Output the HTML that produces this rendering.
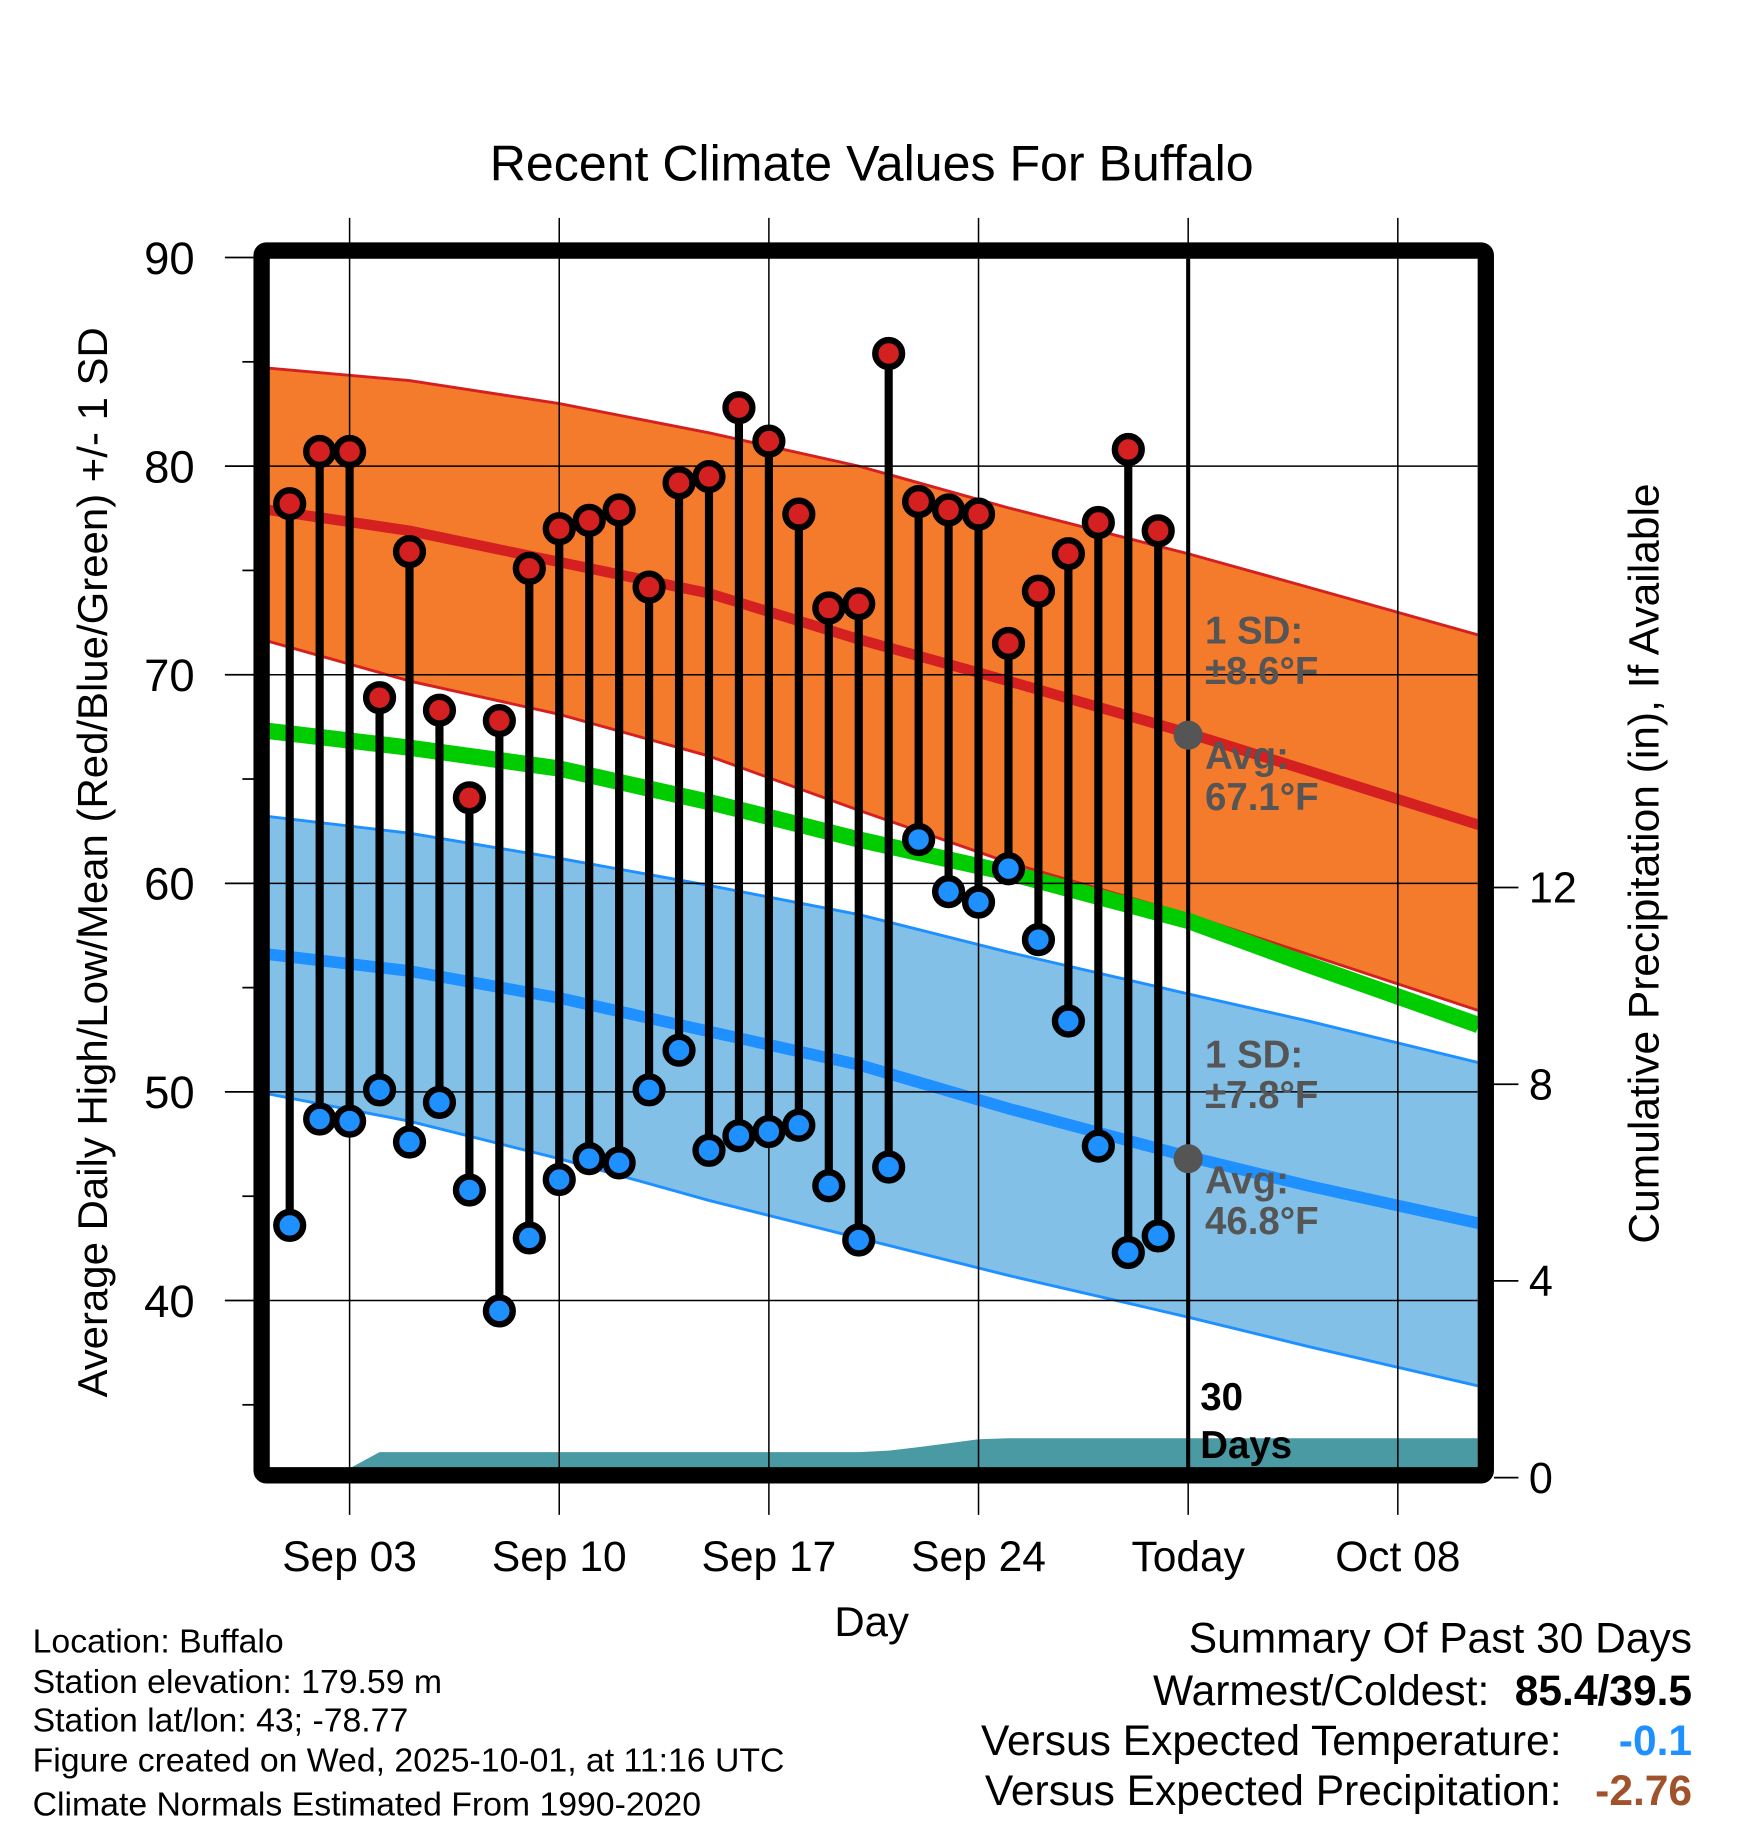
<!DOCTYPE html>
<html><head><meta charset="utf-8"><style>
html,body{margin:0;padding:0;background:#fff;}
svg{display:block;font-family:"Liberation Sans",Arial,sans-serif;}
</style></head><body>
<svg id="chart" width="1748" height="1828" viewBox="0 0 1500 1568.65" preserveAspectRatio="none" xmlns="http://www.w3.org/2000/svg">
<g id="bg"></g>
</svg>
<script>
// ---- data ----
const days = [1,2,3,4,5,6,7,8,9,10,11,12,13,14,15,16,17,18,19,20,21,22,23,24,25,26,27,28,29,30];
const highs = [78.2,80.7,80.7,68.9,75.9,68.3,64.1,67.8,75.1,77.0,77.4,77.9,74.2,79.2,79.5,82.8,81.2,77.7,73.2,73.4,85.4,78.3,77.9,77.7,71.5,74.0,75.8,77.3,80.8,76.9];
const lows = [43.6,48.7,48.6,50.1,47.6,49.5,45.3,39.5,43.0,45.8,46.8,46.6,50.1,52.0,47.2,47.9,48.1,48.4,45.5,42.9,46.4,62.1,59.6,59.1,60.7,57.3,53.4,47.4,42.3,43.1];
const precipCum = [0,0,0,0.52,0.52,0.52,0.52,0.52,0.52,0.52,0.52,0.52,0.52,0.52,0.52,0.52,0.52,0.52,0.52,0.52,0.55,0.62,0.7,0.78,0.8,0.8,0.8,0.8,0.8,0.8];
const normDays = [0.3,5,10,15,20,25,31,35,40.7];
const normHighUpper = [84.7,84.1,83.0,81.6,80.0,78.0,75.8,74.2,71.9];
const normHigh = [77.9,76.9,75.4,73.9,71.7,69.7,67.2,65.4,62.8];
const normHighLower = [71.6,69.7,68.1,66.1,63.5,61.0,58.5,56.6,53.9];
const normMean = [67.3,66.5,65.5,63.9,62.1,60.5,58.2,56.1,53.2];
const normLowUpper = [63.2,62.4,61.2,59.9,58.5,56.7,54.7,53.4,51.4];
const normLow = [56.6,55.8,54.5,52.9,51.3,49.2,46.9,45.5,43.7];
const normLowLower = [49.9,48.6,46.8,44.8,43.0,41.2,39.2,37.8,35.9];
const xTickDays = [3,10,17,24,31,38];
const xTickLabels = ["Sep 03","Sep 10","Sep 17","Sep 24","Today","Oct 08"];
const yTicks = [40,50,60,70,80,90];
const yMinor = [35,45,55,65,75,85];
const pTicks = [0,4,8,12];
const todayDay = 31;

// ---- scales ----
const L=231,R=1268,T=222,B=1260;
const x = d => 300 + (d-3)*25.7;
const y = v => 221 + (90-v)*17.9;
const yp = p => 1268 - p*42.2;
const svg = document.getElementById('chart');
const NS='http://www.w3.org/2000/svg';
function mk(tag, attrs, parent){const e=document.createElementNS(NS,tag);for(const k in attrs)e.setAttribute(k,attrs[k]);(parent||svg).appendChild(e);return e;}
function line(arr){return normDays.map((d,i)=>x(d).toFixed(1)+','+y(arr[i]).toFixed(1));}
function txt(s,attrs){const e=mk('text',attrs);e.textContent=s;return e;}

const defs=mk('defs',{});
const cp=mk('clipPath',{id:'pc'},defs);mk('rect',{x:L,y:T,width:R-L,height:B-T},cp);
const g=mk('g',{'clip-path':'url(#pc)'});

let e;
e=mk('polygon',{points:line(normHighUpper).concat(line(normHighLower).reverse()).join(' '),fill:'#f47a2c',stroke:'none'},g);


e=mk('polygon',{points:line(normLowUpper).concat(line(normLowLower).reverse()).join(' '),fill:'#83c0e8',stroke:'none'},g);


[[normHighUpper,'#d42020',2.5],[normHighLower,'#d42020',2.5],[normHigh,'#d42020',9],[normMean,'#00cc00',14],[normLowUpper,'#1e90ff',2.5],[normLowLower,'#1e90ff',2.5],[normLow,'#1e90ff',10]].forEach(([a,c,w],i)=>{
  const p=mk('polyline',{points:line(a).join(' '),fill:'none',stroke:c,'stroke-width':w,'stroke-linejoin':'round'},g);
  
  
});
const pp=[x(0)+','+B];
days.forEach((d,i)=>{pp.push(x(d).toFixed(1)+','+Math.min(B,yp(precipCum[i])).toFixed(1));});
pp.push(x(41)+','+yp(precipCum[precipCum.length-1]).toFixed(1));pp.push(x(41)+','+B);
e=mk('polygon',{points:pp.join(' '),fill:'#4a9aa3'},g);


yTicks.forEach(v=>{mk('line',{x1:L,x2:R,y1:y(v),y2:y(v),stroke:'#000','stroke-width':1.3},g);});
xTickDays.forEach(d=>{mk('line',{x1:x(d),x2:x(d),y1:187,y2:1300,stroke:'#000','stroke-width':1.3});});
e=mk('line',{x1:x(todayDay),x2:x(todayDay),y1:T,y2:B,stroke:'#000','stroke-width':3.5});


days.forEach((d,i)=>{
  const s=mk('line',{x1:x(d),x2:x(d),y1:y(highs[i]),y2:y(lows[i]),stroke:'#000','stroke-width':7});
  
  
});
days.forEach((d,i)=>{
  const h=mk('circle',{cx:x(d),cy:y(highs[i]),r:11.5,fill:'#d42020',stroke:'#000','stroke-width':5.5});
  
  
  const l=mk('circle',{cx:x(d),cy:y(lows[i]),r:11.5,fill:'#1e90ff',stroke:'#000','stroke-width':5.5});
  
  
});
e=mk('circle',{cx:x(todayDay),cy:y(67.1),r:12.5,fill:'#555'});


e=mk('circle',{cx:x(todayDay),cy:y(46.8),r:12.5,fill:'#555'});


const ann=[["1 SD:",552,'#555'],["±8.6°F",587,'#555'],["Avg:",660,'#555'],["67.1°F",695,'#555'],["1 SD:",916,'#555'],["±7.8°F",951,'#555'],["Avg:",1024,'#555'],["46.8°F",1059,'#555']];
ann.forEach(([s,yy,c])=>{const t=txt(s,{x:1034,y:yy,'font-size':33,'font-weight':'bold',fill:c});});
e=txt("30",{x:1030,y:1210,'font-size':33,'font-weight':'bold'});


e=txt("Days",{x:1030,y:1251,'font-size':33,'font-weight':'bold'});


e=mk('rect',{x:224.5,y:215,width:1050.5,height:1051,fill:'none',stroke:'#000','stroke-width':14,rx:4});


yTicks.forEach(v=>{mk('line',{x1:193,x2:218,y1:y(v),y2:y(v),stroke:'#000','stroke-width':1.5});
  const t=txt(String(v),{x:167,y:y(v)+14,'font-size':39,'text-anchor':'end'});});
yMinor.forEach(v=>{if(y(v)<B)mk('line',{x1:208,x2:218,y1:y(v),y2:y(v),stroke:'#000','stroke-width':1.5});});
pTicks.forEach(p=>{mk('line',{x1:1282,x2:1303,y1:yp(p),y2:yp(p),stroke:'#000','stroke-width':1.5});
  const t=txt(String(p),{x:1312,y:yp(p)+13,'font-size':37});});
xTickDays.forEach((d,i)=>{const t=txt(xTickLabels[i],{x:x(d),y:1348,'font-size':36.5,'text-anchor':'middle'});});
</script>
<script>
(function(){
const svg=document.getElementById('chart');const NS='http://www.w3.org/2000/svg';
function t(s,a,name){const e=document.createElementNS(NS,'text');for(const k in a)e.setAttribute(k,a[k]);e.textContent=s;svg.appendChild(e);


return e;}
t("Recent Climate Values For Buffalo",{x:748,y:155,'font-size':43,'text-anchor':'middle'},'chart-title');
t("Day",{x:748,y:1404,'font-size':36,'text-anchor':'middle'},'x-axis-title');
t("Average Daily High/Low/Mean (Red/Blue/Green) +/- 1 SD",{x:0,y:0,'font-size':36,'text-anchor':'middle',transform:'translate(92,740) rotate(-90)'},'y-axis-title');
t("Cumulative Precipitation (in), If Available",{x:0,y:0,'font-size':36.5,'text-anchor':'middle',transform:'translate(1423,741) rotate(-90)'},'precip-axis-title');
const foot=[["Location: Buffalo",1418],["Station elevation: 179.59 m",1453],["Station lat/lon: 43; -78.77",1486],["Figure created on Wed, 2025-10-01, at 11:16 UTC",1520],["Climate Normals Estimated From 1990-2020",1558]];
foot.forEach(([s,yy])=>t(s,{x:28,y:yy,'font-size':29},'footer-info'));
t("Summary Of Past 30 Days",{x:1452,y:1418,'font-size':36.5,'text-anchor':'end'},'summary-title');
t("Warmest/Coldest:",{x:1278,y:1463,'font-size':36.5,'text-anchor':'end'},'summary-label');
t("85.4/39.5",{x:1452,y:1463,'font-size':36.5,'font-weight':'bold','text-anchor':'end'},'warmest-coldest-value');
t("Versus Expected Temperature:",{x:1340,y:1506,'font-size':36.5,'text-anchor':'end'},'summary-label');
t("-0.1",{x:1452,y:1506,'font-size':36.5,'font-weight':'bold','text-anchor':'end',fill:'#1e90ff'},'temp-anomaly-value');
t("Versus Expected Precipitation:",{x:1340,y:1549,'font-size':36.5,'text-anchor':'end'},'summary-label');
t("-2.76",{x:1452,y:1549,'font-size':36.5,'font-weight':'bold','text-anchor':'end',fill:'#a0522d'},'precip-anomaly-value');
})();
</script>
</body></html>
